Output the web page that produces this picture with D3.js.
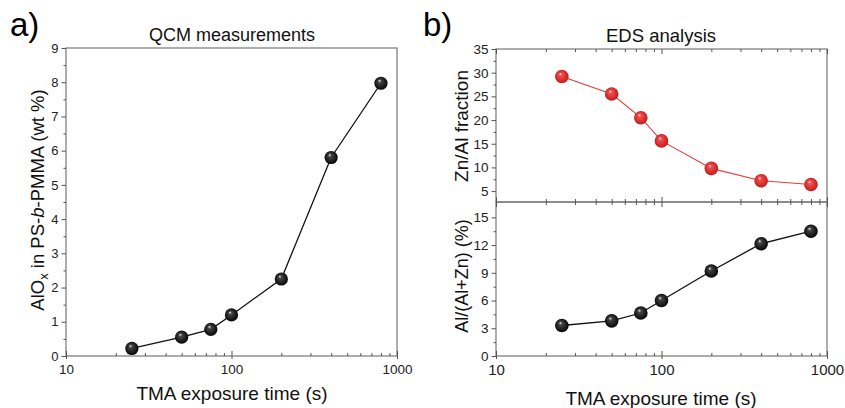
<!DOCTYPE html>
<html>
<head>
<meta charset="utf-8">
<script src="https://cdn.jsdelivr.net/npm/d3@7"></script>
<style>
  body { margin: 0; background: #fff; }
  text { font-family: "Liberation Sans", Arial, sans-serif; }
</style>
</head>
<body>
<svg id="chart" width="845" height="408"></svg>
<script>
// TMA exposure time (s)
const times = [25, 50, 75, 100, 200, 400, 800];
// a) QCM: AlOx in PS-b-PMMA (wt %)
const qcmWt = [0.22, 0.55, 0.78, 1.2, 2.25, 5.8, 7.97];
// b) EDS: Zn/Al fraction and Al/(Al+Zn) (%)
const znAl = [29.2, 25.5, 20.5, 15.6, 9.8, 7.2, 6.4];
const alPct = [3.3, 3.8, 4.65, 6.0, 9.2, 12.15, 13.5];

const xMajor = [10, 100, 1000];
const xMinor = [20, 30, 40, 50, 60, 70, 80, 90, 200, 300, 400, 500, 600, 700, 800, 900];
const yTicksA = [0, 1, 2, 3, 4, 5, 6, 7, 8, 9];
const yTicksTop = [5, 10, 15, 20, 25, 30, 35];
const yTicksBot = [0, 3, 6, 9, 12, 15];

const svg = d3.select('#chart');
const axisCol = '#555';

// sphere gradients
const defs = svg.append('defs');
function sphere(id, c0, c1, c2) {
  let g = defs.append('radialGradient').attr('id', id)
    .attr('cx', '0.5').attr('cy', '0.5').attr('r', '0.55')
    .attr('fx', '0.38').attr('fy', '0.3');
  g.append('stop').attr('offset', '0').attr('stop-color', c0);
  g.append('stop').attr('offset', '0.22').attr('stop-color', c1);
  g.append('stop').attr('offset', '1').attr('stop-color', c2);
}
sphere('ballK', '#f4f4f4', '#444', '#000');
sphere('ballR', '#fde0e0', '#ee5050', '#c41414');

function styleAxis(g) {
  g.select('.domain').remove();
  g.selectAll('line').attr('stroke', axisCol).attr('stroke-width', 1);
  g.selectAll('text').attr('fill', '#222').attr('font-family', '"Liberation Sans", Arial, sans-serif');
}

function frame(x0, y0, x1, y1) {
  svg.append('rect').attr('x', x0).attr('y', y0).attr('width', x1 - x0).attr('height', y1 - y0)
    .attr('fill', 'none').attr('stroke', '#777').attr('stroke-width', 1.2);
}

function xAxisBottom(x, y, fs) {
  svg.append('g').attr('transform', `translate(0,${y})`)
    .call(d3.axisBottom(x).tickValues(xMinor).tickSize(-3).tickFormat(''))
    .call(styleAxis);
  let g = svg.append('g').attr('transform', `translate(0,${y})`)
    .call(d3.axisBottom(x).tickValues(xMajor).tickSize(3).tickPadding(5).tickFormat(d3.format('d')))
    .call(styleAxis);
  g.selectAll('text').attr('font-size', fs);
  g.selectAll('.tick').append('line').attr('y2', -5).attr('stroke', axisCol);
}

function xTicksInside(x, y, dir) {
  svg.append('g').attr('transform', `translate(0,${y})`)
    .call(d3.axisBottom(x).tickValues(xMinor).tickSize(3 * dir).tickFormat(''))
    .call(styleAxis);
  svg.append('g').attr('transform', `translate(0,${y})`)
    .call(d3.axisBottom(x).tickValues(xMajor).tickSize(5 * dir).tickFormat(''))
    .call(styleAxis);
}

function yAxisLeft(y, x0, major, step, fs) {
  let minor = [];
  for (let i = 0; i < major.length - 1; i++) minor.push(major[i] + step / 2);
  let [d0, d1] = y.domain();
  if (major[0] - step / 2 > d0) minor.push(major[0] - step / 2);
  svg.append('g').attr('transform', `translate(${x0},0)`)
    .call(d3.axisLeft(y).tickValues(minor).tickSize(2.5).tickFormat(''))
    .call(styleAxis);
  let g = svg.append('g').attr('transform', `translate(${x0},0)`)
    .call(d3.axisLeft(y).tickValues(major).tickSize(4.5).tickPadding(3))
    .call(styleAxis);
  g.selectAll('text').attr('font-size', fs);
}

function series(x, y, vals, col, lw, ball, r) {
  const line = d3.line().x((d, i) => x(times[i])).y(d => y(d));
  svg.append('path').datum(vals).attr('d', line)
    .attr('fill', 'none').attr('stroke', col).attr('stroke-width', lw);
  svg.append('g').selectAll('circle').data(vals).join('circle')
    .attr('cx', (d, i) => x(times[i])).attr('cy', d => y(d)).attr('r', r)
    .attr('fill', `url(#${ball})`);
}

// ---------- panel a ----------
const xa = d3.scaleLog().domain([10, 1000]).range([66, 397]);
const ya = d3.scaleLinear().domain([0, 9]).range([356, 48]);
frame(66, 48, 397, 356);
xAxisBottom(xa, 356, 13.5);
yAxisLeft(ya, 66, yTicksA, 1, 13);
series(xa, ya, qcmWt, '#111', 1.3, 'ballK', 6.6);

svg.append('text').attr('x', 10).attr('y', 36).attr('font-size', 33).text('a)');
svg.append('text').attr('x', 232).attr('y', 41).attr('text-anchor', 'middle')
  .attr('font-size', 18).attr('fill', '#111').text('QCM measurements');
svg.append('text').attr('x', 232).attr('y', 400).attr('text-anchor', 'middle')
  .attr('font-size', 19).attr('fill', '#111').text('TMA exposure time (s)');
const yla = svg.append('text').attr('transform', 'translate(44,200) rotate(-90)')
  .attr('text-anchor', 'middle').attr('font-size', 18.5).attr('fill', '#111');
yla.append('tspan').text('AlO');
yla.append('tspan').attr('font-size', 13).attr('dy', 4).text('x');
yla.append('tspan').attr('dy', -4).text(' in PS-');
yla.append('tspan').attr('font-style', 'italic').text('b');
yla.append('tspan').text('-PMMA (wt %)');

// ---------- panel b ----------
const xb = d3.scaleLog().domain([10, 1000]).range([496, 827]);
const yTop = d3.scaleLinear().domain([2.7, 35]).range([202, 49]);
const yBot = d3.scaleLinear().domain([0, 16.66]).range([356, 202]);
frame(496, 49, 827, 202);
frame(496, 202, 827, 356);
xTicksInside(xb, 49, 1);
xTicksInside(xb, 202, -1);
xTicksInside(xb, 202, 1);
xAxisBottom(xb, 356, 15);
yAxisLeft(yTop, 496, yTicksTop, 5, 13.5);
yAxisLeft(yBot, 496, yTicksBot, 3, 13.5);
series(xb, yTop, znAl, '#e53b3b', 1.1, 'ballR', 6.8);
series(xb, yBot, alPct, '#111', 1.3, 'ballK', 6.8);

svg.append('text').attr('x', 423).attr('y', 36).attr('font-size', 33).text('b)');
svg.append('text').attr('x', 661).attr('y', 42).attr('text-anchor', 'middle')
  .attr('font-size', 18.5).attr('fill', '#111').text('EDS analysis');
svg.append('text').attr('x', 661).attr('y', 405).attr('text-anchor', 'middle')
  .attr('font-size', 19).attr('fill', '#111').text('TMA exposure time (s)');
svg.append('text').attr('transform', 'translate(468,126) rotate(-90)')
  .attr('text-anchor', 'middle').attr('font-size', 19).attr('fill', '#111').text('Zn/Al fraction');
svg.append('text').attr('transform', 'translate(468,276) rotate(-90)')
  .attr('text-anchor', 'middle').attr('font-size', 18).attr('fill', '#111').text('Al/(Al+Zn) (%)');
</script>
</body>
</html>
